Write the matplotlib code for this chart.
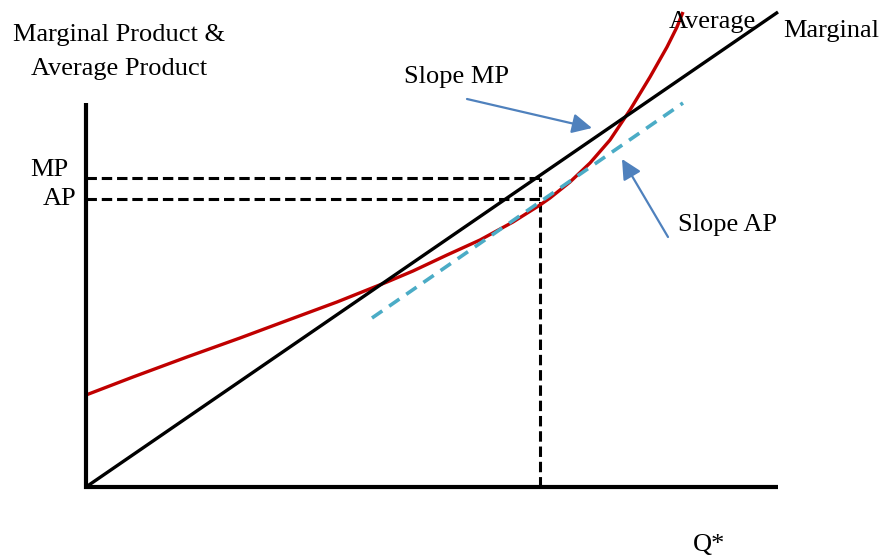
import numpy as np
import matplotlib
matplotlib.use("Agg")
import matplotlib.pyplot as plt

plt.rcParams['font.family'] = ['Liberation Serif', 'DejaVu Serif']
plt.rcParams['lines.scale_dashes'] = False

# 軸の範囲（原点 = 0）
q_max = 692
v_max = 384

# 限界生産物（直線）
q_mp = [0, 692]
mp = [0, 475]

# 平均生産物（曲線）
q_ap = [0, 47, 101, 154, 197, 251, 301, 327, 361, 394, 427, 454, 464,
        484, 504, 524, 544, 564, 581, 591, 597]
ap = [92, 110, 130, 149, 165, 185, 205, 216, 232, 247, 265, 282, 289,
      305, 324, 347, 377, 410, 440, 460, 475]

# 平均生産物の接線
q_tan = [286, 597]
tan = [169, 384]

# Q* と MP, AP の水準
q_star = 454
mp_level = 309
ap_level = 288

red = '#c00000'
cyan = '#4bacc6'
blue = '#4f81bd'

fig = plt.figure(figsize=(8.84, 5.58), dpi=100)
ax = fig.add_axes((0, 0, 1, 1))
ax.set_xlim(-86, 798)
ax.set_ylim(-71, 487)
ax.axis('off')

# 破線
ax.plot([0, q_star], [mp_level, mp_level], color='k', lw=2.2, dashes=(7.5, 3.5))
ax.plot([0, q_star], [ap_level, ap_level], color='k', lw=2.2, dashes=(7.5, 3.5))
ax.plot([q_star, q_star], [0, mp_level], color='k', lw=2.2, dashes=(7.5, 3.5))

# 曲線
ax.plot(q_ap, ap, color=red, lw=2.4, solid_capstyle='butt', solid_joinstyle='round')
ax.plot(q_tan, tan, color=cyan, lw=2.6, dashes=(9, 6))
ax.plot(q_mp, mp, color='k', lw=2.4, solid_capstyle='butt')

# 軸
ax.plot([0, 0], [-2, v_max], color='k', lw=3.0, solid_capstyle='butt')
ax.plot([-2, q_max], [0, 0], color='k', lw=3.0, solid_capstyle='butt')

fs = 19
ax.text(33, 452, 'Marginal Product &', fontsize=fs, ha='center', va='center')
ax.text(33, 418, 'Average Product', fontsize=fs, ha='center', va='center')
ax.text(-18, 317, 'MP', fontsize=fs, ha='right', va='center')
ax.text(-10, 288, 'AP', fontsize=fs, ha='right', va='center')
ax.text(318, 410, 'Slope MP', fontsize=fs, ha='left', va='center')
ax.text(592, 262, 'Slope AP', fontsize=fs, ha='left', va='center')
ax.text(583, 465, 'Average', fontsize=fs, ha='left', va='center')
ax.text(697, 456, 'Marginal', fontsize=fs, ha='left', va='center')
ax.text(607, -58, 'Q*', fontsize=fs, ha='left', va='center')

# 矢印
ax.annotate('', xy=(506, 359), xytext=(381, 388),
            arrowprops=dict(arrowstyle='-|>', color=blue, lw=1.6,
                            mutation_scale=30, shrinkA=0, shrinkB=0))
ax.annotate('', xy=(536, 328), xytext=(582, 250),
            arrowprops=dict(arrowstyle='-|>', color=blue, lw=1.6,
                            mutation_scale=30, shrinkA=0, shrinkB=0))

plt.savefig('out.png', dpi=100)
plt.close()
